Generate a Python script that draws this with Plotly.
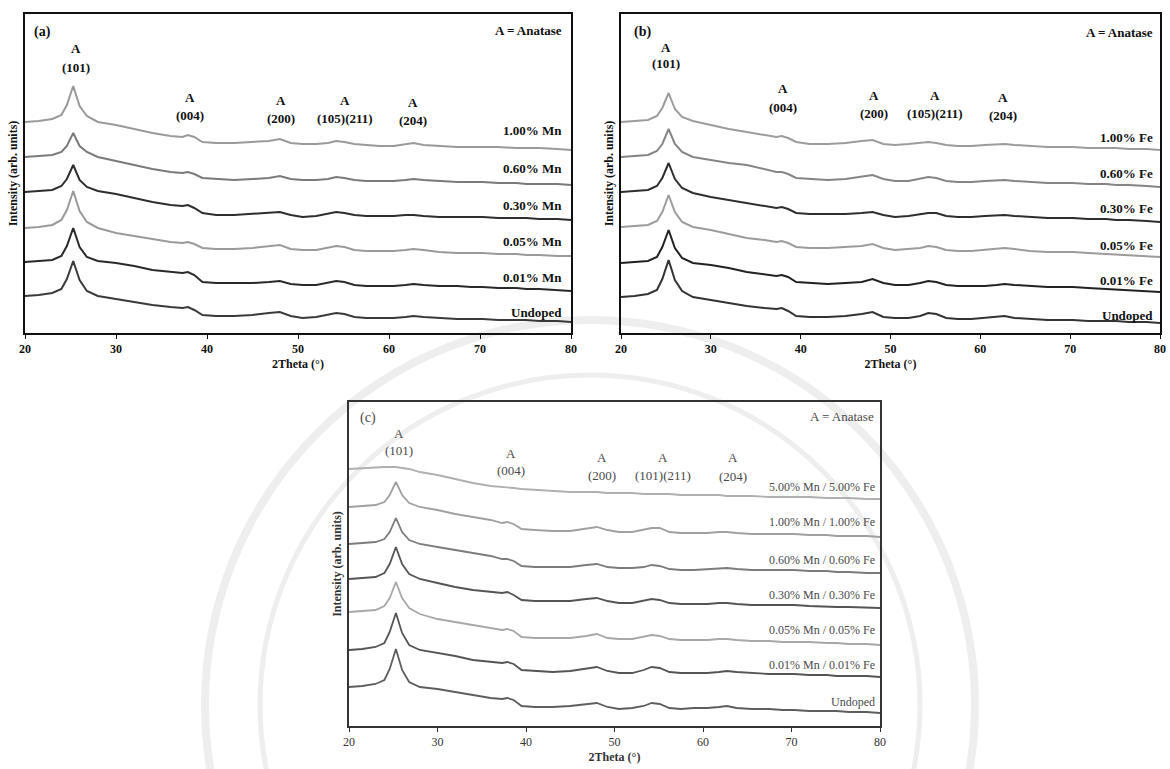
import plotly.graph_objects as go

# 2-theta sampling positions shared by every pattern (degrees)
two_theta = [20, 21.5, 23, 24, 24.6, 25.3, 26, 26.8, 28, 30, 32, 34, 36, 37.3, 37.9, 38.6,
             39.5, 41, 43, 45, 46.8, 48.0, 49.2, 50.5, 52, 53.3, 54.2, 55.1, 56.2, 57.5, 59,
             60.5, 61.8, 62.7, 63.8, 65.5, 67.5, 69, 70.3, 72, 74, 75.1, 76.5, 78.5, 80]

# ---- (a) Mn-doped TiO2: relative intensity profiles (arb. units) ----
mn_labels = ["1.00% Mn", "0.60% Mn", "0.30% Mn", "0.05% Mn", "0.01% Mn", "Undoped"]
mn_offsets = [211, 176, 141, 105, 71, 37]
mn_100 = [0, 1, 3, 7, 17, 36, 16, 6, 0, -3, -7, -11, -14, -15, -13, -15, -20, -21, -21, -20, -19, -17, -21, -22, -22, -21, -19, -20, -22, -23, -24, -24, -22, -21, -23, -24, -25, -25, -25, -25, -26, -26, -26, -27, -28]
mn_060 = [0, 1, 2, 5, 11, 24, 11, 5, 0, -4, -8, -12, -15, -16, -15, -17, -21, -22, -23, -22, -21, -19, -22, -23, -23, -22, -20, -21, -23, -24, -24, -24, -23, -22, -23, -24, -25, -25, -25, -26, -26, -27, -27, -27, -28]
mn_030 = [0, 1, 2, 6, 13, 27, 12, 5, 1, -2, -6, -10, -13, -14, -13, -16, -21, -23, -23, -22, -21, -20, -23, -25, -24, -22, -20, -21, -23, -24, -24, -24, -23, -23, -24, -25, -25, -25, -25, -26, -26, -26, -27, -27, -28]
mn_005 = [0, 1, 3, 8, 18, 37, 17, 6, 0, -5, -8, -11, -14, -15, -14, -16, -20, -21, -21, -20, -18, -17, -21, -22, -22, -20, -18, -19, -22, -23, -23, -23, -22, -21, -22, -24, -25, -25, -25, -26, -26, -27, -27, -28, -28]
mn_001 = [0, 1, 2, 6, 16, 34, 15, 5, 1, -1, -4, -8, -10, -11, -10, -13, -20, -21, -21, -21, -20, -19, -22, -23, -23, -21, -19, -20, -23, -24, -24, -24, -23, -22, -23, -24, -24, -25, -25, -26, -26, -27, -27, -28, -29]
mn_und = [0, 1, 3, 7, 17, 35, 16, 5, 0, -3, -6, -9, -11, -12, -11, -14, -19, -20, -20, -19, -17, -16, -20, -22, -21, -19, -17, -18, -21, -22, -22, -22, -21, -20, -21, -22, -23, -23, -23, -24, -24, -24, -25, -25, -26]
mn_colors = ["#9a9a9a", "#7a7a7a", "#2e2e2e", "#9a9a9a", "#2a2a2a", "#3a3a3a"]

# ---- (b) Fe-doped TiO2 ----
fe_labels = ["1.00% Fe", "0.60% Fe", "0.30% Fe", "0.05% Fe", "0.01% Fe", "Undoped"]
fe_offsets = [211, 176, 141, 106, 70, 36]
fe_100 = [0, 1, 2, 6, 14, 29, 13, 5, 1, -3, -7, -10, -13, -15, -14, -16, -20, -22, -22, -21, -19, -18, -22, -23, -22, -21, -20, -21, -23, -24, -24, -23, -22, -22, -23, -24, -25, -25, -25, -26, -26, -26, -27, -27, -28]
fe_060 = [0, 1, 2, 6, 13, 28, 13, 5, 0, -3, -6, -8, -12, -15, -15, -17, -21, -22, -23, -22, -20, -18, -22, -24, -24, -22, -20, -21, -24, -25, -25, -24, -23, -23, -24, -25, -26, -26, -26, -27, -27, -28, -28, -29, -30]
fe_030 = [0, 1, 2, 6, 14, 29, 13, 4, -1, -5, -8, -11, -14, -16, -15, -17, -21, -22, -22, -22, -21, -20, -23, -25, -24, -22, -21, -21, -24, -25, -25, -24, -23, -23, -24, -25, -26, -26, -26, -27, -27, -28, -28, -29, -30]
fe_005 = [0, 1, 2, 6, 15, 32, 15, 5, 0, -3, -7, -11, -13, -15, -14, -16, -20, -21, -21, -20, -19, -17, -21, -23, -22, -21, -19, -20, -23, -24, -24, -23, -22, -21, -22, -24, -25, -25, -25, -26, -27, -27, -28, -29, -30]
fe_001 = [0, 1, 2, 6, 16, 33, 15, 5, 0, -2, -5, -9, -11, -13, -12, -14, -19, -20, -21, -20, -19, -16, -20, -22, -22, -20, -18, -19, -22, -23, -23, -23, -22, -21, -22, -23, -24, -24, -24, -25, -26, -27, -27, -28, -29]
fe_und = [0, 1, 3, 7, 18, 37, 17, 6, 0, -3, -6, -9, -11, -12, -11, -14, -19, -20, -20, -19, -17, -15, -20, -21, -21, -19, -16, -17, -21, -22, -22, -21, -20, -19, -21, -22, -23, -23, -23, -24, -24, -24, -25, -25, -26]
fe_colors = ["#9c9c9c", "#858585", "#2e2e2e", "#9c9c9c", "#222222", "#333333"]

# ---- (c) Mn/Fe co-doped TiO2 ----
co_labels = ["5.00% Mn / 5.00% Fe", "1.00% Mn / 1.00% Fe", "0.60% Mn / 0.60% Fe",
             "0.30% Mn / 0.30% Fe", "0.05% Mn / 0.05% Fe", "0.01% Mn / 0.01% Fe", "Undoped"]
co_offsets = [257, 219, 182, 147, 114, 76, 39]
co_500 = [0, 1, 2, 2, 2, 2, 1, 0, -3, -6, -10, -14, -17, -18, -18, -19, -20, -21, -22, -23, -23, -23, -24, -24, -24, -25, -25, -25, -25, -26, -26, -26, -26, -27, -27, -27, -28, -28, -28, -28, -29, -29, -29, -30, -30]
co_100 = [0, 1, 2, 5, 12, 25, 12, 4, 0, -3, -7, -10, -13, -16, -15, -17, -22, -23, -24, -24, -22, -20, -23, -25, -25, -23, -21, -21, -25, -26, -26, -26, -25, -25, -26, -27, -27, -27, -27, -28, -28, -29, -29, -29, -30]
co_060 = [0, 1, 2, 5, 12, 26, 12, 4, 0, -3, -6, -9, -12, -15, -15, -17, -22, -23, -23, -23, -21, -20, -23, -24, -24, -23, -21, -22, -25, -26, -26, -25, -24, -24, -25, -26, -26, -26, -26, -27, -27, -28, -28, -29, -29]
co_030 = [0, 1, 2, 6, 15, 32, 15, 5, 0, -4, -8, -11, -13, -14, -13, -16, -21, -22, -22, -22, -20, -19, -22, -24, -24, -22, -20, -21, -24, -25, -25, -25, -24, -24, -25, -26, -26, -26, -26, -27, -28, -28, -28, -29, -29]
co_005 = [0, 1, 2, 6, 14, 30, 14, 4, -2, -7, -10, -13, -16, -18, -17, -19, -25, -26, -26, -26, -24, -22, -26, -27, -27, -25, -23, -24, -27, -28, -28, -28, -27, -27, -28, -29, -29, -30, -30, -30, -31, -31, -32, -32, -33]
co_001 = [0, 1, 3, 7, 18, 37, 17, 5, 0, -3, -6, -10, -12, -13, -12, -14, -20, -21, -22, -21, -19, -17, -21, -23, -23, -20, -17, -18, -22, -23, -23, -23, -22, -21, -22, -23, -24, -24, -24, -25, -25, -26, -26, -26, -27]
co_und = [0, 1, 3, 7, 18, 38, 17, 5, 0, -2, -5, -8, -11, -12, -11, -13, -19, -20, -20, -19, -17, -16, -20, -22, -21, -19, -16, -17, -21, -22, -21, -21, -20, -19, -21, -22, -22, -23, -23, -24, -24, -24, -25, -25, -26]
co_colors = ["#b0b0b0", "#a0a0a0", "#7c7c7c", "#555555", "#a8a8a8", "#555555", "#5e5e5e"]

# peak annotations: (label, 2theta position) per panel
peaks_a = [("(101)", 25.6), ("(004)", 38.1), ("(200)", 48.1), ("(105)(211)", 55.2), ("(204)", 62.6)]
peaks_b = [("(101)", 25.0), ("(004)", 38.0), ("(200)", 48.2), ("(105)(211)", 55.0), ("(204)", 62.5)]
peaks_c = [("(101)", 25.7), ("(004)", 38.3), ("(200)", 48.6), ("(101)(211)", 55.5), ("(204)", 63.4)]
tick_vals = [20, 30, 40, 50, 60, 70, 80]

W, H = 1170, 769
SERIF = "Liberation Serif"

fig = go.Figure()

panels = [
    dict(xa="x", ya="y", profiles=[mn_100, mn_060, mn_030, mn_005, mn_001, mn_und],
         offsets=mn_offsets, labels=mn_labels, colors=mn_colors, lw=2.0),
    dict(xa="x2", ya="y2", profiles=[fe_100, fe_060, fe_030, fe_005, fe_001, fe_und],
         offsets=fe_offsets, labels=fe_labels, colors=fe_colors, lw=2.0),
    dict(xa="x3", ya="y3", profiles=[co_500, co_100, co_060, co_030, co_005, co_001, co_und],
         offsets=co_offsets, labels=co_labels, colors=co_colors, lw=1.8),
]

for p in panels:
    for prof, off, name, col in zip(p["profiles"], p["offsets"], p["labels"], p["colors"]):
        fig.add_trace(go.Scatter(
            x=two_theta, y=[v + off for v in prof], mode="lines", name=name,
            line=dict(color=col, width=p["lw"]), xaxis=p["xa"], yaxis=p["ya"],
            showlegend=False, hoverinfo="skip"))


def ann(text, x, y, xref, yref, size=13, bold=True, color="#111111", anchor="center"):
    t = f"<b>{text}</b>" if bold else text
    fig.add_annotation(text=t, x=x, y=y, xref=xref, yref=yref, showarrow=False,
                       xanchor=anchor, yanchor="middle",
                       font=dict(family=SERIF, size=size, color=color))


# panel (a) text
ann("(a)", 0.012, 301, "x domain", "y", size=14, anchor="left")
ann("A = Anatase", 0.988, 303, "x domain", "y", anchor="right")
ys_a = [(285, 266), (236, 218), (233, 215), (233, 215), (231, 213)]
for (lab, xp), (ya1, ya2) in zip(peaks_a, ys_a):
    ann("A", xp, ya1, "x", "y")
    ann(lab, xp, ya2, "x", "y")
for lab, yy in zip(mn_labels, [203, 165, 128, 92, 56, 21]):
    ann(lab, 0.988, yy, "x domain", "y", anchor="right")

# panel (b) text
ann("(b)", 0.02, 301, "x2 domain", "y2", size=14, anchor="left")
ann("A = Anatase", 0.99, 301, "x2 domain", "y2", anchor="right")
ys_b = [(286, 270), (245, 226), (238, 220), (238, 220), (236, 218)]
for (lab, xp), (yb1, yb2) in zip(peaks_b, ys_b):
    ann("A", xp, yb1, "x2", "y2")
    ann(lab, xp, yb2, "x2", "y2")
for lab, yy in zip(fe_labels, [196, 160, 125, 88, 53, 18]):
    ann(lab, 0.99, yy, "x2 domain", "y2", anchor="right")

# panel (c) text (lighter print)
CG = "#4a4a4a"
ann("(c)", 0.017, 308, "x3 domain", "y3", size=14, bold=False, color=CG, anchor="left")
ann("A = Anatase", 0.993, 310, "x3 domain", "y3", size=13, bold=False, color=CG, anchor="right")
ys_c = [(293, 276), (273, 256), (269, 251), (269, 251), (269, 250)]
for (lab, xp), (yc1, yc2) in zip(peaks_c, ys_c):
    ann("A", xp, yc1, "x3", "y3", bold=False, color=CG)
    ann(lab, xp, yc2, "x3", "y3", bold=False, color=CG)
for lab, yy in zip(co_labels, [239, 204, 166, 131, 96, 61, 24]):
    ann(lab, 0.995, yy, "x3 domain", "y3", size=12, bold=False, color=CG, anchor="right")

# faint circular watermark behind the lower panel
for r, w in [(385, 8), (330, 5)]:
    cx, cy = 590, 705
    fig.add_shape(type="circle", xref="paper", yref="paper", layer="below",
                  x0=(cx - r) / W, x1=(cx + r) / W, y0=1 - (cy + r) / H, y1=1 - (cy - r) / H,
                  line=dict(color="#eeeeee", width=w))


def xaxis_style(domain, color, bold):
    return dict(domain=domain, range=[20, 80], tickvals=tick_vals, ticks="outside", ticklen=4,
                tickwidth=1, tickcolor=color, showline=True, mirror=True, linecolor=color,
                linewidth=1.5, showgrid=False, zeroline=False, automargin=False,
                tickfont=dict(family=SERIF, size=12, color=color, weight="bold" if bold else "normal"),
                title=dict(text="<b>2Theta (°)</b>", standoff=4,
                           font=dict(family=SERIF, size=12, color=color)))


def yaxis_style(domain, rng, color, anchor):
    return dict(domain=domain, range=rng, showticklabels=False, ticks="", showline=True,
                mirror=True, linecolor=color, linewidth=1.5, showgrid=False, zeroline=False,
                automargin=False, anchor=anchor,
                title=dict(text="<b>Intensity (arb. units)</b>", standoff=3,
                           font=dict(family=SERIF, size=12, color=color)))


fig.update_layout(
    width=W, height=H, margin=dict(l=0, r=0, t=0, b=0),
    paper_bgcolor="white", plot_bgcolor="rgba(0,0,0,0)",
    xaxis=dict(**xaxis_style([25 / W, 571 / W], "#111111", True), anchor="y"),
    yaxis=yaxis_style([1 - 333 / H, 1 - 14 / H], [0, 319], "#111111", "x"),
    xaxis2=dict(**xaxis_style([621 / W, 1160 / W], "#111111", True), anchor="y2"),
    yaxis2=yaxis_style([1 - 333 / H, 1 - 14 / H], [0, 319], "#111111", "x2"),
    xaxis3=dict(**xaxis_style([349 / W, 880 / W], "#333333", False), anchor="y3"),
    yaxis3=yaxis_style([1 - 726 / H, 1 - 402 / H], [0, 324], "#333333", "x3"),
)

fig.write_html("out.html")
